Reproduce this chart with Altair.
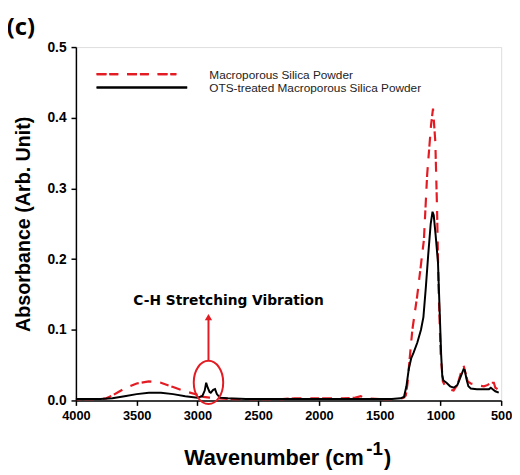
import altair as alt
import pandas as pd

# ---- data ----
wn_silica = [4000, 3900, 3800, 3750, 3700, 3650, 3600, 3500, 3400, 3300, 3200, 3100, 3000, 2950,
             2900, 2850, 2700, 2500, 2300, 2200, 2000, 1800, 1700, 1655, 1620, 1500, 1400, 1320,
             1300, 1285, 1270, 1258, 1231, 1191, 1136, 1109, 1077, 1061, 1042, 1028, 1015, 998,
             980, 960, 930, 891, 860, 830, 810, 795, 776, 750, 723, 680, 642, 610, 588, 560, 548, 530]
abs_silica = [0.002, 0.002, 0.002, 0.003, 0.007, 0.012, 0.017, 0.024, 0.027, 0.025, 0.019, 0.013, 0.008, 0.005,
              0.004, 0.003, 0.002, 0.002, 0.002, 0.003, 0.003, 0.003, 0.004, 0.006, 0.003, 0.002, 0.002, 0.003,
              0.004, 0.007, 0.025, 0.050, 0.100, 0.148, 0.227, 0.320, 0.390, 0.413, 0.366, 0.273, 0.157, 0.065,
              0.027, 0.020, 0.016, 0.014, 0.022, 0.040, 0.050, 0.040, 0.027, 0.024, 0.023, 0.021, 0.020, 0.022, 0.025, 0.025, 0.018, 0.016]

wn_ots = [4000, 3900, 3800, 3700, 3600, 3500, 3400, 3300, 3200, 3100, 3000, 2960, 2940, 2928,
          2915, 2900, 2890, 2870, 2855, 2840, 2815, 2750, 2600, 2400, 2200, 2000, 1800, 1600,
          1400, 1330, 1300, 1280, 1260, 1240, 1220, 1190, 1160, 1140, 1120, 1101, 1080, 1065,
          1055, 1040, 1020, 1005, 994, 985, 975, 950, 920, 890, 860, 830, 810, 800, 785, 770,
          750, 700, 650, 600, 585, 570, 548, 520]
abs_ots = [0.002, 0.002, 0.002, 0.003, 0.006, 0.009, 0.011, 0.011, 0.009, 0.006, 0.004, 0.006, 0.014, 0.025,
           0.018, 0.012, 0.011, 0.015, 0.016, 0.009, 0.004, 0.003, 0.002, 0.002, 0.002, 0.002, 0.002, 0.002,
           0.002, 0.003, 0.005, 0.020, 0.045, 0.060, 0.068, 0.082, 0.100, 0.118, 0.160, 0.205, 0.250, 0.267,
           0.262, 0.235, 0.195, 0.120, 0.065, 0.035, 0.028, 0.025, 0.020, 0.018, 0.022, 0.035, 0.044, 0.043, 0.030, 0.020,
           0.017, 0.016, 0.016, 0.016, 0.018, 0.016, 0.013, 0.011]

series_names = ["Macroporous Silica Powder", "OTS-treated Macroporous Silica Powder"]
x_ticks = [4000, 3500, 3000, 2500, 2000, 1500, 1000, 500]
y_ticks = [0.0, 0.1, 0.2, 0.3, 0.4, 0.5]
x_title_parts = ["Wavenumber (cm", "-1", ")"]
y_title = "Absorbance (Arb. Unit)"
panel_label = "(c)"

# annotation anchors (data coordinates)
ann_x = [2909]
ann_ellipse_y = [0.0255]
ann_arrow_y = [0.0561]
ann_arrow_y2 = [0.118]
ann_text_x = [2744]
ann_text_y = [0.141]
ann_text = ["C-H Stretching Vibration"]

RED = "#e31b23"
DASH = [10, 3, 9, 9]

df_s = pd.DataFrame({"wn": wn_silica, "absb": abs_silica})
df_o = pd.DataFrame({"wn": wn_ots, "absb": abs_ots})

xscale = alt.Scale(domain=[4000, 500], nice=False, zero=False)
yscale = alt.Scale(domain=[0, 0.5], nice=False)

xaxis = alt.Axis(values=x_ticks, title="", format="d", grid=False,
                 labelFont="Liberation Sans", labelFontWeight="bold", labelFontSize=13,
                 labelColor="black", labelPadding=4, tickSize=5, tickWidth=1.5, tickColor="black",
                 domainColor="black", domainWidth=1.5, labelFlush=False)
yaxis = alt.Axis(values=y_ticks, title=y_title, format=".1f", grid=False,
                 labelFont="Liberation Sans", labelFontWeight="bold", labelFontSize=14,
                 labelColor="black", labelPadding=5, tickSize=5, tickWidth=1.5, tickColor="black",
                 domainColor="black", domainWidth=1.5, labelFlush=False,
                 titleFont="Liberation Sans", titleFontWeight="bold", titleFontSize=20,
                 titleColor="black", titleBaseline="middle", titleX=-53, titleY=179.5)

base_s = alt.Chart(df_s).mark_line(color=RED, strokeWidth=2.2, strokeDash=DASH, strokeCap="butt").encode(
    x=alt.X("wn:Q", scale=xscale, axis=xaxis),
    y=alt.Y("absb:Q", scale=yscale, axis=yaxis),
    order="wn:Q",
)
base_o = alt.Chart(df_o).mark_line(color="black", strokeWidth=2).encode(
    x=alt.X("wn:Q", scale=xscale),
    y=alt.Y("absb:Q", scale=yscale),
    order="wn:Q",
)

df_ann = pd.DataFrame({"x": ann_x, "ye": ann_ellipse_y, "ya": ann_arrow_y, "ya2": ann_arrow_y2,
                       "tx": ann_text_x, "ty": ann_text_y, "t": ann_text})

ellipse = alt.Chart(df_ann).mark_point(
    shape="M -0.68,0 A 0.68,1 0 1,1 0.68,0 A 0.68,1 0 1,1 -0.68,0 Z",
    size=1936, filled=False, stroke=RED, strokeWidth=2, opacity=1,
).encode(x=alt.X("x:Q", scale=xscale), y=alt.Y("ye:Q", scale=yscale))

arrow_line = alt.Chart(df_ann).mark_rule(color=RED, strokeWidth=2).encode(
    x=alt.X("x:Q", scale=xscale), y=alt.Y("ya:Q", scale=yscale), y2="ya2:Q")

arrow_head = alt.Chart(df_ann).mark_point(shape="triangle-up", size=55, filled=True,
                                           color=RED, opacity=1).encode(
    x=alt.X("x:Q", scale=xscale), y=alt.Y("ya2:Q", scale=yscale))

ann_label = alt.Chart(df_ann).mark_text(font="DejaVu Sans", fontWeight="bold", fontSize=14,
                                        color="black", align="center", baseline="middle").encode(
    x=alt.X("tx:Q", scale=xscale), y=alt.Y("ty:Q", scale=yscale), text="t:N")

# legend (inside the plot, top-left)
df_leg = pd.DataFrame({"name": series_names})
leg_red = alt.Chart(df_leg).mark_rule(color=RED, strokeWidth=2.2, strokeDash=DASH, strokeCap="butt").encode(
    x=alt.value(21), x2=alt.value(102), y=alt.value(27.5))
leg_black = alt.Chart(df_leg).mark_rule(color="black", strokeWidth=2).encode(
    x=alt.value(21), x2=alt.value(113), y=alt.value(41))
leg_t1 = alt.Chart(df_leg).transform_filter(alt.datum.name == series_names[0]).mark_text(
    font="Liberation Sans", fontSize=12, color="#222", align="left", baseline="middle").encode(
    x=alt.value(135.5), y=alt.value(28), text="name:N")
leg_t2 = alt.Chart(df_leg).transform_filter(alt.datum.name == series_names[1]).mark_text(
    font="Liberation Sans", fontSize=12, color="#222", align="left", baseline="middle").encode(
    x=alt.value(135.5), y=alt.value(41.5), text="name:N")

# x-axis title composed with a real superscript (positions relative to the plot's top-left)
df_xt = pd.DataFrame({"t": x_title_parts})
xt_main = alt.Chart(df_xt).transform_filter(alt.datum.t == x_title_parts[0]).mark_text(
    font="Liberation Sans", fontWeight="bold", fontSize=22, color="black", align="left",
    baseline="alphabetic").encode(x=alt.value(110), y=alt.value(425), text="t:N")
xt_sup = alt.Chart(df_xt).transform_filter(alt.datum.t == x_title_parts[1]).mark_text(
    font="Liberation Sans", fontWeight="bold", fontSize=19, color="black", align="left",
    baseline="alphabetic").encode(x=alt.value(295), y=alt.value(414), text="t:N")
xt_end = alt.Chart(df_xt).transform_filter(alt.datum.t == x_title_parts[2]).mark_text(
    font="Liberation Sans", fontWeight="bold", fontSize=22, color="black", align="left",
    baseline="alphabetic").encode(x=alt.value(313), y=alt.value(425), text="t:N")

panel = alt.Chart(pd.DataFrame({"t": [panel_label]})).mark_text(
    font="Noto Sans", fontWeight="bold", fontSize=24, color="black", align="center",
    baseline="middle").encode(x=alt.value(-56), y=alt.value(-19), text="t:N")

chart = alt.layer(base_s, base_o, ellipse, arrow_line, arrow_head, ann_label,
                  leg_red, leg_black, leg_t1, leg_t2, xt_main, xt_sup, xt_end, panel).properties(
    width=432, height=359,
    autosize=alt.AutoSizeParams(type="none"),
    padding={"left": 69, "top": 36, "right": 11, "bottom": 70},
).configure_view(stroke="black", strokeWidth=1.5).configure(background="white")

chart.save("out.html", embed_options={"renderer": "svg", "actions": False})
